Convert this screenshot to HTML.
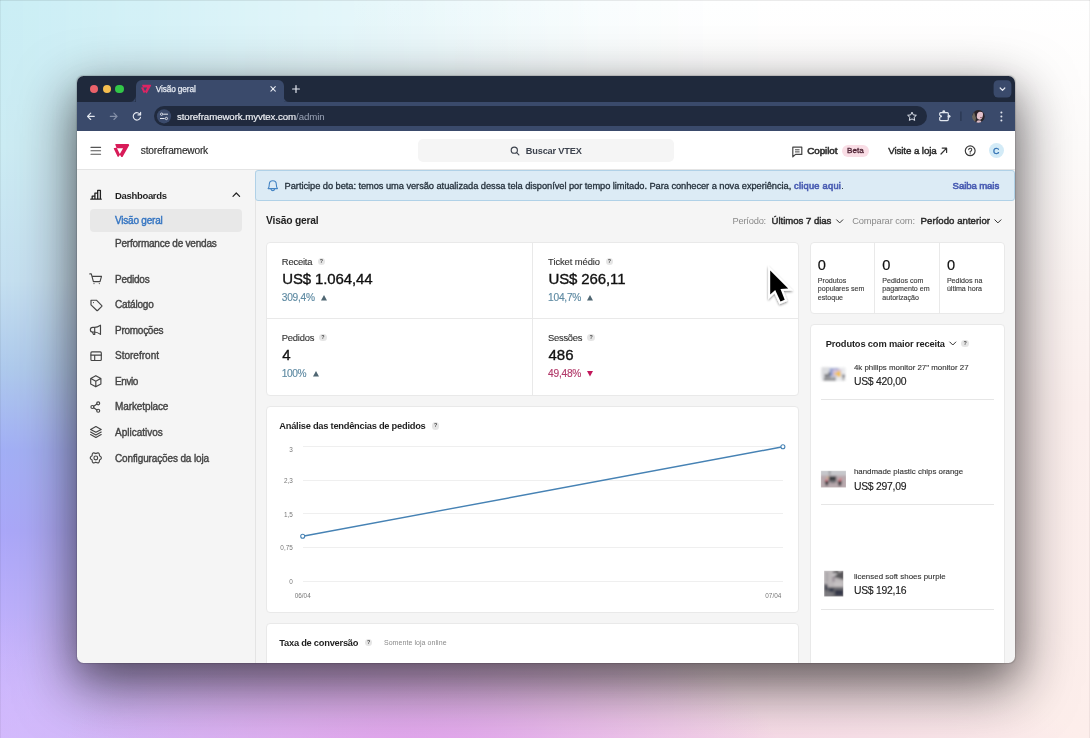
<!DOCTYPE html>
<html lang="pt-BR">
<head>
<meta charset="utf-8">
<title>Visão geral</title>
<style>
*{box-sizing:border-box;margin:0;padding:0}
html,body{width:1090px;height:738px;overflow:hidden}
body{font-family:"Liberation Sans",sans-serif;color:#1f1f1f;position:relative;
background:linear-gradient(180deg,#ffffff 0%,#fdfbfa 20%,#fcf4f2 40%,#fcf0ee 55%,#fdeeeb 100%);
}
#win{position:absolute;left:76.9px;top:76.3px;width:938.1px;height:586.3px;border-radius:6.5px;overflow:hidden;background:#f5f5f5;
 box-shadow:0 21px 56px 4px rgba(16,12,16,.6),0 10px 28px 0 rgba(16,12,16,.13),0 0 1px .5px rgba(16,12,16,.14)}
#o{position:absolute;left:-76.9px;top:-76.3px;width:1090px;height:738px}
#bg1{position:absolute;left:0;top:0;width:1090px;height:738px;
 background:linear-gradient(180deg,#caeef5 0%,#cbebf3 20%,#c4dff0 38%,#adc9ec 50%,#a1aef5 61%,#a9a6f8 72%,#c0b0fb 86%,#d6c1ff 100%);
 -webkit-mask-image:linear-gradient(90deg,#000 0%,rgba(0,0,0,.82) 13%,rgba(0,0,0,.59) 27.5%,rgba(0,0,0,.26) 46%,rgba(0,0,0,.12) 55%,rgba(0,0,0,.03) 64%,transparent 72%);
 mask-image:linear-gradient(90deg,#000 0%,rgba(0,0,0,.82) 13%,rgba(0,0,0,.59) 27.5%,rgba(0,0,0,.26) 46%,rgba(0,0,0,.12) 55%,rgba(0,0,0,.03) 64%,transparent 72%)}
#bg2{position:absolute;left:0;top:0;width:1090px;height:738px;
 background:radial-gradient(ellipse 370px 200px at 420px 790px, rgba(226,152,238,1) 0%, rgba(228,166,238,.65) 45%, rgba(234,188,240,0) 100%),
 radial-gradient(ellipse 420px 170px at 690px 800px, rgba(244,200,232,.8) 0%, rgba(245,205,232,.42) 50%, rgba(246,210,232,0) 100%),
 radial-gradient(ellipse 460px 170px at 130px 780px, rgba(208,180,250,.95) 0%, rgba(208,180,250,.5) 50%, rgba(208,180,250,0) 100%)}
.a{position:absolute}
.t{position:absolute;white-space:nowrap;line-height:14px;height:14px}
.card{position:absolute;background:#fff;border:1px solid #e9e9e9;border-radius:4px}
.q{position:absolute;width:7.6px;height:7.6px;border-radius:50%;background:#e5e5e5;color:#4a4a4a;font-size:5.4px;font-weight:bold;line-height:7.8px;text-align:center}
svg{position:absolute;overflow:visible}
.ic{fill:none;stroke:#444;stroke-width:1.15;stroke-linecap:round;stroke-linejoin:round}
</style>
</head>
<body>
<div id="bg1"></div><div id="bg2"></div><div class="a" style="left:0;top:0;width:1090px;height:1px;background:rgba(0,0,0,.08)"></div><div class="a" style="left:0;top:0;width:1px;height:738px;background:rgba(0,0,0,.05)"></div><div class="a" style="left:1089px;top:0;width:1px;height:738px;background:rgba(0,0,0,.05)"></div>
<div id="win"><div id="o">
<div class="a" style="left:76px;top:76px;width:940px;height:26px;background:#1f293c;"></div>
<div class="a" style="left:76px;top:101.5px;width:940px;height:29.5px;background:#3a4a6b;"></div>
<div class="a" style="left:135.5px;top:80px;width:148px;height:24px;background:#3a4a6b;border-radius:6px 6px 0 0"></div>
<div class="a" style="left:89.9px;top:84.8px;width:8.4px;height:8.4px;background:#ea626a;border-radius:50%"></div>
<div class="a" style="left:102.6px;top:84.8px;width:8.4px;height:8.4px;background:#f5be4f;border-radius:50%"></div>
<div class="a" style="left:115.3px;top:84.8px;width:8.4px;height:8.4px;background:#32c748;border-radius:50%"></div>
<div class="a" style="left:153.8px;top:105.8px;width:773px;height:20.6px;background:#202a3e;border-radius:10.3px"></div>
<div class="a" style="left:76px;top:131px;width:940px;height:39.3px;background:#fff;border-bottom:1px solid #e4e4e4"></div>
<div class="a" style="left:418.2px;top:139.3px;width:256px;height:23px;background:#f5f5f5;border-radius:5px"></div>
<div class="a" style="left:842.3px;top:145.3px;width:26.3px;height:11.3px;background:#f9dde5;border-radius:6px"></div>
<div class="a" style="left:988.7px;top:143.3px;width:15px;height:15px;background:#d3ebf7;border-radius:50%"></div>
<div class="a" style="left:254.5px;top:170.5px;width:1px;height:500px;background:#e4e4e4;"></div>
<div class="a" style="left:90px;top:209px;width:152.3px;height:22.5px;background:#e8e8e8;border-radius:4px"></div>
<div class="a" style="left:255.3px;top:170px;width:759.7px;height:31.2px;background:#dcebf5;border:1px solid #b0d1e7;border-radius:3px"></div>
<div class="card" style="left:265.6px;top:242px;width:533.8px;height:153.5px"></div>
<div class="a" style="left:532px;top:243px;width:1px;height:151.5px;background:#e9e9e9;"></div>
<div class="a" style="left:267px;top:318px;width:531.5px;height:1px;background:#e9e9e9;"></div>
<div class="q" style="left:317.6px;top:257.9px">?</div>
<svg style="left:320.9px;top:294.5px" width="6" height="5.4" viewBox="0 0 6 5.4"><path d="M0 5.4H6L3 0Z" fill="#4f6672"/></svg>
<div class="q" style="left:605.5px;top:257.9px">?</div>
<svg style="left:587.2px;top:294.5px" width="6" height="5.4" viewBox="0 0 6 5.4"><path d="M0 5.4H6L3 0Z" fill="#4f6672"/></svg>
<div class="q" style="left:319.0px;top:333.8px">?</div>
<svg style="left:313px;top:370.7px" width="6" height="5.4" viewBox="0 0 6 5.4"><path d="M0 5.4H6L3 0Z" fill="#4f6672"/></svg>
<div class="q" style="left:587.3px;top:333.8px">?</div>
<svg style="left:586.7px;top:371.09999999999997px" width="6" height="5.4" viewBox="0 0 6 5.4"><path d="M0 0H6L3 5.4Z" fill="#c2185b"/></svg>
<div class="card" style="left:810px;top:242px;width:195px;height:71.5px"></div>
<div class="a" style="left:874.1px;top:243px;width:1px;height:69.5px;background:#e9e9e9;"></div>
<div class="a" style="left:939px;top:243px;width:1px;height:69.5px;background:#e9e9e9;"></div>
<div class="card" style="left:810px;top:324px;width:195px;height:360px"></div>
<div class="q" style="left:961.3px;top:339.9px">?</div>
<div class="a" style="left:820.8px;top:399.1px;width:173.4px;height:1px;background:#e6e6e6;"></div>
<div class="a" style="left:820.8px;top:503.9px;width:173.4px;height:1px;background:#e6e6e6;"></div>
<div class="a" style="left:820.8px;top:608.5px;width:173.4px;height:1px;background:#e6e6e6;"></div>
<div class="card" style="left:265.6px;top:406px;width:533.8px;height:206.5px"></div>
<div class="q" style="left:431.8px;top:422.0px">?</div>
<div class="a" style="left:302.7px;top:446.2px;width:480.3px;height:1px;background:#efefef;"></div>
<div class="a" style="left:302.7px;top:479.7px;width:480.3px;height:1px;background:#efefef;"></div>
<div class="a" style="left:302.7px;top:513.3px;width:480.3px;height:1px;background:#efefef;"></div>
<div class="a" style="left:302.7px;top:547.1px;width:480.3px;height:1px;background:#efefef;"></div>
<div class="a" style="left:302.7px;top:580.6px;width:480.3px;height:1px;background:#efefef;"></div>
<svg style="left:0;top:0" width="1090" height="738"><path d="M302.7 536.3L782.9 446.8" stroke="#4682b4" stroke-width="1.4" fill="none"/><circle cx="302.7" cy="536.3" r="2" fill="#fff" stroke="#4682b4" stroke-width="1.1"/><circle cx="782.9" cy="446.8" r="2" fill="#fff" stroke="#4682b4" stroke-width="1.1"/></svg>
<div class="card" style="left:265.6px;top:623px;width:533.8px;height:80px"></div>
<div class="q" style="left:364.9px;top:638.8px">?</div>
<div class="t" style="left:155.8px;top:82.2px;font-size:8.3px;color:#e6eaf2;letter-spacing:-0.142px;-webkit-text-stroke:0.25px #e6eaf2;">Visão geral</div>
<div class="t" style="left:177px;top:109.6px;font-size:9.7px;color:#f2f4f8;letter-spacing:-0.084px;-webkit-text-stroke:0.15px #f2f4f8;">storeframework.myvtex.com<span style="color:#9aa3b6;-webkit-text-stroke:0">/admin</span></div>
<div class="t" style="left:140.8px;top:144.4px;font-size:10.2px;color:#2a2a2a;letter-spacing:-0.215px;-webkit-text-stroke:0.15px #2a2a2a;">storeframework</div>
<div class="t" style="left:525.8px;top:144.0px;font-size:9.2px;color:#3d434e;font-weight:700;letter-spacing:-0.173px;">Buscar VTEX</div>
<div class="t" style="left:807.2px;top:144.3px;font-size:9.8px;color:#333;letter-spacing:-0.043px;-webkit-text-stroke:0.62px #333;">Copilot</div>
<div class="t" style="left:847.1px;top:144.2px;font-size:8.1px;color:#4d2233;letter-spacing:-0.039px;-webkit-text-stroke:0.3px #4d2233;">Beta</div>
<div class="t" style="left:888.2px;top:144.3px;font-size:9.8px;color:#2b2b2b;letter-spacing:-0.111px;-webkit-text-stroke:0.45px #2b2b2b;">Visite a loja</div>
<div class="t" style="left:996.2px;top:144.1px;font-size:8.8px;color:#2c6cb0;-webkit-text-stroke:0.3px #2c6cb0;transform:translateX(-50%);">C</div>
<div class="t" style="left:115px;top:188.5px;font-size:9.5px;color:#1f1f1f;font-weight:700;letter-spacing:-0.321px;">Dashboards</div>
<div class="t" style="left:115px;top:214.0px;font-size:10px;color:#3575c2;letter-spacing:-0.214px;-webkit-text-stroke:0.4px #3575c2;">Visão geral</div>
<div class="t" style="left:115px;top:237.1px;font-size:10px;color:#444;letter-spacing:-0.222px;-webkit-text-stroke:0.38px #444;">Performance de vendas</div>
<div class="t" style="left:115px;top:272.6px;font-size:10px;color:#444;letter-spacing:-0.249px;-webkit-text-stroke:0.38px #444;">Pedidos</div>
<div class="t" style="left:115px;top:298.3px;font-size:10px;color:#444;letter-spacing:-0.179px;-webkit-text-stroke:0.38px #444;">Catálogo</div>
<div class="t" style="left:115px;top:323.7px;font-size:10px;color:#444;letter-spacing:-0.264px;-webkit-text-stroke:0.38px #444;">Promoções</div>
<div class="t" style="left:115px;top:349.2px;font-size:10px;color:#444;letter-spacing:0.008px;-webkit-text-stroke:0.38px #444;">Storefront</div>
<div class="t" style="left:115px;top:374.8px;font-size:10px;color:#444;letter-spacing:-0.403px;-webkit-text-stroke:0.38px #444;">Envio</div>
<div class="t" style="left:115px;top:400.2px;font-size:10px;color:#444;letter-spacing:-0.106px;-webkit-text-stroke:0.38px #444;">Marketplace</div>
<div class="t" style="left:115px;top:425.8px;font-size:10px;color:#444;-webkit-text-stroke:0.38px #444;">Aplicativos</div>
<div class="t" style="left:115px;top:451.5px;font-size:10px;color:#444;letter-spacing:-0.130px;-webkit-text-stroke:0.38px #444;">Configurações da loja</div>
<div class="t" style="left:284.6px;top:178.9px;font-size:9.3px;color:#25313c;letter-spacing:-0.058px;-webkit-text-stroke:0.3px #25313c;">Participe do beta: temos uma versão atualizada dessa tela disponível por tempo limitado. Para conhecer a nova experiência,</div>
<div class="t" style="left:794px;top:178.9px;font-size:9.3px;color:#4a5db3;letter-spacing:0.241px;-webkit-text-stroke:0.62px #4a5db3;">clique aqui</div>
<div class="t" style="left:841.2px;top:178.9px;font-size:9.3px;color:#25313c;">.</div>
<div class="t" style="left:952.6px;top:178.9px;font-size:9.6px;color:#4a5db3;letter-spacing:-0.097px;-webkit-text-stroke:0.62px #4a5db3;">Saiba mais</div>
<div class="t" style="left:266px;top:214.0px;font-size:10.3px;color:#1f1f1f;font-weight:700;letter-spacing:-0.206px;">Visão geral</div>
<div class="t" style="left:732.5px;top:214.0px;font-size:9.3px;color:#8a8a8a;letter-spacing:-0.207px;">Período:</div>
<div class="t" style="left:771.5px;top:214.0px;font-size:9.6px;color:#2a2a2a;letter-spacing:-0.025px;-webkit-text-stroke:0.45px #2a2a2a;">Últimos 7 dias</div>
<div class="t" style="left:852.2px;top:214.0px;font-size:9.3px;color:#8a8a8a;letter-spacing:-0.105px;">Comparar com:</div>
<div class="t" style="left:920.6px;top:214.0px;font-size:9.6px;color:#2a2a2a;letter-spacing:0.038px;-webkit-text-stroke:0.45px #2a2a2a;">Período anterior</div>
<div class="t" style="left:281.8px;top:254.8px;font-size:9.4px;color:#333;letter-spacing:-0.185px;-webkit-text-stroke:0.12px #333;">Receita</div>
<div class="t" style="left:282.2px;top:271.5px;font-size:15px;color:#111;letter-spacing:-0.112px;-webkit-text-stroke:0.35px #111;">US$ 1.064,44</div>
<div class="t" style="left:281.8px;top:290.7px;font-size:10.2px;color:#5f8ba3;letter-spacing:-0.260px;-webkit-text-stroke:0.15px #5f8ba3;">309,4%</div>
<div class="t" style="left:548.1px;top:254.8px;font-size:9.4px;color:#333;letter-spacing:-0.083px;-webkit-text-stroke:0.12px #333;">Ticket médio</div>
<div class="t" style="left:548.5px;top:271.5px;font-size:15px;color:#111;letter-spacing:-0.122px;-webkit-text-stroke:0.35px #111;">US$ 266,11</div>
<div class="t" style="left:548.1px;top:290.7px;font-size:10.2px;color:#5f8ba3;letter-spacing:-0.260px;-webkit-text-stroke:0.15px #5f8ba3;">104,7%</div>
<div class="t" style="left:281.8px;top:330.7px;font-size:9.4px;color:#333;letter-spacing:-0.213px;-webkit-text-stroke:0.12px #333;">Pedidos</div>
<div class="t" style="left:282.2px;top:348.1px;font-size:15px;color:#111;letter-spacing:-0.544px;-webkit-text-stroke:0.35px #111;">4</div>
<div class="t" style="left:281.8px;top:367.0px;font-size:10.2px;color:#5f8ba3;letter-spacing:-0.391px;-webkit-text-stroke:0.15px #5f8ba3;">100%</div>
<div class="t" style="left:548.1px;top:330.7px;font-size:9.4px;color:#333;letter-spacing:-0.281px;-webkit-text-stroke:0.12px #333;">Sessões</div>
<div class="t" style="left:548.5px;top:348.1px;font-size:15px;color:#111;letter-spacing:-0.010px;-webkit-text-stroke:0.35px #111;">486</div>
<div class="t" style="left:548.1px;top:367.0px;font-size:10.2px;color:#b23a6a;letter-spacing:-0.260px;-webkit-text-stroke:0.15px #b23a6a;">49,48%</div>
<div class="t" style="left:817.8px;top:257.9px;font-size:14.6px;color:#111;-webkit-text-stroke:0.2px #111;">0</div>
<div class="t" style="left:817.8px;top:273.5px;font-size:7.1px;color:#3a3a3a;-webkit-text-stroke:0.12px #3a3a3a;">Produtos</div>
<div class="t" style="left:817.8px;top:282.3px;font-size:7.1px;color:#3a3a3a;-webkit-text-stroke:0.12px #3a3a3a;">populares sem</div>
<div class="t" style="left:817.8px;top:291.1px;font-size:7.1px;color:#3a3a3a;-webkit-text-stroke:0.12px #3a3a3a;">estoque</div>
<div class="t" style="left:882.3px;top:257.9px;font-size:14.6px;color:#111;-webkit-text-stroke:0.2px #111;">0</div>
<div class="t" style="left:882.3px;top:273.5px;font-size:7.1px;color:#3a3a3a;-webkit-text-stroke:0.12px #3a3a3a;">Pedidos com</div>
<div class="t" style="left:882.3px;top:282.3px;font-size:7.1px;color:#3a3a3a;-webkit-text-stroke:0.12px #3a3a3a;">pagamento em</div>
<div class="t" style="left:882.3px;top:291.1px;font-size:7.1px;color:#3a3a3a;-webkit-text-stroke:0.12px #3a3a3a;">autorização</div>
<div class="t" style="left:946.9px;top:257.9px;font-size:14.6px;color:#111;-webkit-text-stroke:0.2px #111;">0</div>
<div class="t" style="left:946.9px;top:273.5px;font-size:7.1px;color:#3a3a3a;-webkit-text-stroke:0.12px #3a3a3a;">Pedidos na</div>
<div class="t" style="left:946.9px;top:282.3px;font-size:7.1px;color:#3a3a3a;-webkit-text-stroke:0.12px #3a3a3a;">última hora</div>
<div class="t" style="left:825.8px;top:336.8px;font-size:9.3px;color:#1f1f1f;font-weight:700;letter-spacing:-0.149px;">Produtos com maior receita</div>
<div class="t" style="left:853.9px;top:360.6px;font-size:7.9px;color:#333;-webkit-text-stroke:0.12px #333;">4k philips monitor 27" monitor 27</div>
<div class="t" style="left:853.9px;top:375.0px;font-size:10.4px;color:#222;letter-spacing:-0.259px;-webkit-text-stroke:0.15px #222;">US$ 420,00</div>
<div class="t" style="left:853.9px;top:465.4px;font-size:7.9px;color:#333;-webkit-text-stroke:0.12px #333;">handmade plastic chips orange</div>
<div class="t" style="left:853.9px;top:479.8px;font-size:10.4px;color:#222;letter-spacing:-0.259px;-webkit-text-stroke:0.15px #222;">US$ 297,09</div>
<div class="t" style="left:853.9px;top:570.0px;font-size:7.9px;color:#333;letter-spacing:0.025px;-webkit-text-stroke:0.12px #333;">licensed soft shoes purple</div>
<div class="t" style="left:853.9px;top:584.4px;font-size:10.4px;color:#222;letter-spacing:-0.259px;-webkit-text-stroke:0.15px #222;">US$ 192,16</div>
<div class="t" style="left:279.3px;top:419.0px;font-size:9.3px;color:#1f1f1f;font-weight:700;letter-spacing:-0.251px;">Análise das tendências de pedidos</div>
<div class="t" style="left:292.8px;top:443.2px;font-size:6.4px;color:#777;transform:translateX(-100%);">3</div>
<div class="t" style="left:292.8px;top:474.1px;font-size:6.4px;color:#777;transform:translateX(-100%);">2,3</div>
<div class="t" style="left:292.8px;top:507.7px;font-size:6.4px;color:#777;transform:translateX(-100%);">1,5</div>
<div class="t" style="left:292.8px;top:541.3px;font-size:6.4px;color:#777;transform:translateX(-100%);">0,75</div>
<div class="t" style="left:292.8px;top:574.8px;font-size:6.4px;color:#777;transform:translateX(-100%);">0</div>
<div class="t" style="left:302.7px;top:588.5px;font-size:6.4px;color:#777;transform:translateX(-50%);">06/04</div>
<div class="t" style="left:773.3px;top:588.5px;font-size:6.4px;color:#777;transform:translateX(-50%);">07/04</div>
<div class="t" style="left:279.3px;top:635.8px;font-size:9.3px;color:#1f1f1f;font-weight:700;letter-spacing:-0.243px;">Taxa de conversão</div>
<div class="t" style="left:383.9px;top:636.0px;font-size:7px;color:#8a8a8a;letter-spacing:0.068px;">Somente loja online</div>
<svg style="left:0;top:0" width="1090" height="738" viewBox="0 0 1090 738"><path d="M115.54 143.98L128.6 143.98L129.2 145.2L122.5 157.07L121.37 157.07L119.95 154.8L118.67 156.75L117.68 156.75L113.69 148.6L114.12 147.97L116.54 147.68L115.3 144.7ZM116.96 148.25L123.08 148.25L119.81 153.94Z" fill="#d81b58" fill-rule="evenodd"/><path d="M142.29 84.79L150.78 84.79L151.17 85.58L146.81 93.3L146.08 93.3L145.16 91.82L144.33 93.09L143.68 93.09L141.09 87.79L141.37 87.38L142.94 87.19L142.13 85.25ZM143.21 87.56L147.19 87.56L145.07 91.26Z" fill="#dc2463" fill-rule="evenodd"/><path d="M94.3 116.3H87.6M90.7 113.1L87.5 116.3L90.7 119.5" stroke="#e4e8f0" stroke-width="1.15" fill="none" stroke-linecap="round" stroke-linejoin="round"/><path d="M110.3 116.3H117M113.9 113.1L117.1 116.3L113.9 119.5" stroke="#8490a8" stroke-width="1.15" fill="none" stroke-linecap="round" stroke-linejoin="round"/><path d="M140.2 114.6A3.7 3.7 0 1 0 140.5 117.4" stroke="#e4e8f0" stroke-width="1.15" fill="none" stroke-linecap="round" stroke-linejoin="round"/><path d="M140.6 112.3V114.9H138" stroke="#e4e8f0" stroke-width="1.15" fill="none" stroke-linecap="round" stroke-linejoin="round"/><path d="M129.5 101.8Q135.5 101.8 135.5 95.8V101.8Z" fill="#3a4a6b"/><path d="M289.5 101.8Q283.5 101.8 283.5 95.8V101.8Z" fill="#3a4a6b"/><path d="M270.9 86.7L275.3 91.1M275.3 86.7L270.9 91.1" stroke="#e4e8f0" stroke-width="1.1" fill="none" stroke-linecap="round"/><path d="M296 85.6V92.4M292.6 89H299.4" stroke="#e4e8f0" stroke-width="1.2" fill="none" stroke-linecap="round"/><circle class="" cx="164" cy="116.3" r="7.1" fill="#3a4a6b"/><path d="M163.6 114.2H167.6M160.4 118.5H164.2" stroke="#e4e8f0" stroke-width="1" fill="none" stroke-linecap="round"/><circle class="" cx="161.6" cy="114.2" r="1.15" fill="none" stroke="#e4e8f0" stroke-width="0.9"/><circle class="" cx="166.4" cy="118.5" r="1.15" fill="none" stroke="#e4e8f0" stroke-width="0.9"/><path d="M912.00 112.10L913.29 114.92L916.37 115.28L914.09 117.38L914.70 120.42L912.00 118.90L909.30 120.42L909.91 117.38L907.63 115.28L910.71 114.92Z" stroke="#dfe4ee" stroke-width="1" fill="none" stroke-linejoin="round"/><rect x="939.7" y="112.6" width="8.6" height="8" rx="1" stroke="#e1e7ef" stroke-width="1.2" fill="none"/><circle cx="943.8" cy="111.7" r="1.45" fill="#e1e7ef"/><circle cx="949.1" cy="116.3" r="1.4" fill="#e1e7ef"/><circle cx="940.6" cy="116.3" r="1.3" fill="#e1e7ef"/><circle cx="939.3" cy="116.3" r="0.9" fill="#3a4a6b"/><path d="M960.9 111.4V121" stroke="#27334d" stroke-width="1.1" fill="none"/><circle class="" cx="1001.4" cy="112.4" r="1.0" fill="#e4e8f0"/><circle class="" cx="1001.4" cy="116.4" r="1.0" fill="#e4e8f0"/><circle class="" cx="1001.4" cy="120.4" r="1.0" fill="#e4e8f0"/><rect x="993.6" y="80.3" width="17.8" height="17.2" rx="4.5" fill="#3a4a6b"/><path d="M1000.2 88L1002.5 90.3L1004.8 88" stroke="#e9edf4" stroke-width="1.2" fill="none" stroke-linecap="round" stroke-linejoin="round"/><path class="ic" d="M91 147.4H100.6" style="stroke:#555;stroke-width:1.1"/><path class="ic" d="M91 150.8H100.6" style="stroke:#555;stroke-width:1.1"/><path class="ic" d="M91 154.2H100.6" style="stroke:#555;stroke-width:1.1"/><circle class="ic" cx="514.3" cy="150.2" r="3.1" style="stroke:#3d434e;stroke-width:1.15"/><path class="ic" d="M516.7 152.6L518.9 154.8" style="stroke:#3d434e;stroke-width:1.15"/><path class="ic" d="M792.8 147.2H801.8V154.4H795.6L792.8 156.8Z" style="stroke:#444;stroke-width:1.2"/><path class="ic" d="M795.4 149.8H799.2M795.4 151.9H799.2" style="stroke:#444;stroke-width:1"/><path class="ic" d="M941 154L946.4 148.3M942.2 148.1H946.6V152.4" style="stroke:#333;stroke-width:1.2"/><circle class="ic" cx="970.2" cy="150.8" r="4.9" style="stroke:#3a3a3a;stroke-width:1.2"/><path class="ic" d="M968.7 149.6A1.55 1.55 0 1 1 970.2 151.3V152.2" style="stroke:#3a3a3a;stroke-width:1.1"/><circle class="" cx="970.2" cy="153.8" r="0.65" fill="#3a3a3a"/><path class="ic" d="M90.8 199.2H101.2M92.2 199V196.2H94.9M94.9 199V193.2H97.7M97.7 199V190.3H100.4V199" style="stroke:#222;stroke-width:1.3"/><path class="ic" d="M233 196.3L236.3 193L239.6 196.3" style="stroke:#222;stroke-width:1.2"/><path class="ic" d="M89.8 273.9H91.3L93.4 281.6H100L101.5 276.4H92" /><circle class="" cx="94" cy="283.6" r="0.55" fill="#454545"/><circle class="" cx="99.3" cy="283.6" r="0.55" fill="#454545"/><path class="ic" d="M91 300.2L96.4 300.2L101.8 305.6A.6 .6 0 0 1 101.8 306.4L97.6 310.5A.6 .6 0 0 1 96.8 310.5L91 304.9Z" /><circle class="" cx="93.5" cy="302.6" r="0.55" fill="#454545"/><path class="ic" d="M100.5 325.2V334.4C98.5 333 96.5 332 94.7 332H92.7A2.35 2.35 0 0 1 92.7 327.3H94.7C96.5 327.3 98.5 326.5 100.5 325.2ZM94.7 327.3V334.4H93.4L92.4 332" /><rect class="ic" x="90.9" y="351.9" width="10.4" height="8.6" rx="1"/><path class="ic" d="M90.9 355.1H101.3M94.7 355.1V360.5" /><path class="ic" d="M95.8 375.7L100.9 378.5V384L95.8 386.8L90.7 384V378.5ZM90.9 378.6L95.8 381.3L100.7 378.6M95.8 381.3V386.6" /><circle class="ic" cx="92.4" cy="407" r="1.5" /><circle class="ic" cx="98.2" cy="403.3" r="1.5" /><circle class="ic" cx="98.2" cy="410.7" r="1.5" /><path class="ic" d="M93.7 406.2L96.9 404.1M93.7 407.8L96.9 409.9" /><path class="ic" d="M95.9 426.5L101.2 429.4L95.9 432.3L90.6 429.4ZM90.6 432L95.9 434.9L101.2 432M90.6 434.6L95.9 437.5L101.2 434.6" /><path class="ic" d="M95.80 453.60Q99.55 451.40 99.52 455.75Q103.30 457.90 99.52 460.05Q99.55 464.40 95.80 462.20Q92.05 464.40 92.08 460.05Q88.30 457.90 92.08 455.75Q92.05 451.40 95.80 453.60Z"/><circle class="ic" cx="95.8" cy="457.9" r="1.9" /><path class="ic" d="M268.1 188.6C269.3 187 269.3 185.6 269.3 184.2A3.5 3.5 0 0 1 276.3 184.2C276.3 185.6 276.3 187 277.5 188.6ZM270.9 189A2 2.4 0 0 0 274.7 189" style="stroke:#4585c4;stroke-width:1.1"/><path class="ic" d="M836.6 219.8L839.7 222.9L842.8 219.8" style="stroke:#333;stroke-width:1"/><path class="ic" d="M994.8 219.8L997.9 222.9L1001 219.8" style="stroke:#333;stroke-width:1"/><path class="ic" d="M949.8 342L952.8 345L955.8 342" style="stroke:#333;stroke-width:1"/><defs><filter id="cs" x="-40%" y="-40%" width="180%" height="180%"><feDropShadow dx="0" dy="1.2" stdDeviation="1.3" flood-color="#000" flood-opacity=".45"/></filter></defs><g filter="url(#cs)"><path d="M770.2 270.6L770.2 294.6L775.2 290L780.5 301.6L784.7 299.8L780.5 288.9L788.2 288.6Z" fill="#000" stroke="#fff" stroke-width="4.2" stroke-linejoin="miter" stroke-miterlimit="6" paint-order="stroke"/></g><defs><filter id="bl" x="-10%" y="-10%" width="120%" height="120%"><feGaussianBlur stdDeviation="1.1"/></filter><filter id="bl2" x="-10%" y="-10%" width="120%" height="120%"><feGaussianBlur stdDeviation="0.6"/></filter><clipPath id="av"><circle cx="978.4" cy="116.4" r="6.3"/></clipPath><clipPath id="p2"><rect x="820.9" y="470.7" width="25.1" height="16.7"/></clipPath><clipPath id="p3"><rect x="824.1" y="570.7" width="19.2" height="25.7"/></clipPath></defs><g filter="url(#bl)" opacity=".8"><rect x="821.5" y="367.5" width="24" height="13.5" fill="#e4e5e8"/><rect x="821.5" y="367.3" width="8" height="10.5" fill="#d3d4d8"/><rect x="829.6" y="368.2" width="9" height="8" fill="#7c8bc4"/><rect x="833" y="369.5" width="8.2" height="6.5" fill="#c9b4d6"/><path d="M834 373L837 372.6L838 370.6L840.6 371.4L840.8 376.6L838 377L836.6 375L834.4 374.4Z" fill="#eeb42c"/><rect x="824.6" y="374" width="3.2" height="3.6" fill="#4a4b52"/><rect x="828.4" y="372" width="1.8" height="5.6" fill="#2d3142"/><rect x="842" y="374.6" width="3" height="2.6" fill="#50545f"/><rect x="842.6" y="377.2" width="1.6" height="3" fill="#777"/><rect x="823.5" y="378.2" width="12.5" height="2.3" fill="#5d5e63"/><rect x="830" y="376.6" width="6" height="2" fill="#9a9ba0"/></g><g clip-path="url(#p2)"><g filter="url(#bl)"><rect x="820" y="470" width="27" height="6" fill="#c6c7cb"/><rect x="820" y="475.6" width="27" height="13" fill="#b8a9ad"/><rect x="829.2" y="470.4" width="1" height="4.4" fill="#6a6a6e"/><rect x="829" y="476.2" width="7.2" height="5" fill="#3b3c41"/><rect x="830.2" y="480.6" width="5.4" height="2.6" fill="#77767b"/><path d="M824.6 481H829L827.8 485.6H825.8Z" fill="#34343a"/><path d="M837.6 481H842L840.8 486H838.8Z" fill="#34343a"/><circle cx="826.4" cy="480.5" r="0.95" fill="#e64055"/><circle cx="839.5" cy="480.6" r="0.9" fill="#e64055"/><circle cx="840.6" cy="479.4" r="0.8" fill="#e64055"/><circle cx="827.5" cy="477.5" r="0.75" fill="#f0b432"/></g></g><g clip-path="url(#p3)"><g filter="url(#bl)"><rect x="823" y="570" width="22" height="28" fill="#bcb7b9"/><path d="M833 571H844V580L834 577Z" fill="#58575a"/><path d="M832 575L840 570.6H842L833 577Z" fill="#d9d6d8"/><rect x="836" y="570.8" width="2.4" height="2.4" fill="#111"/><rect x="826" y="572" width="2" height="10" fill="#a9a5a8"/><rect x="832.6" y="576" width="1.8" height="6" fill="#8e8590"/><rect x="833" y="584.4" width="6" height="1" fill="#7a747c"/><rect x="824" y="587" width="20" height="10" fill="#6b6a70"/><rect x="824.4" y="584" width="3" height="6" fill="#3f4250"/><rect x="829" y="588" width="5" height="4" fill="#3a3f50"/><rect x="835" y="590" width="8.4" height="5.6" fill="#34384a"/><rect x="824.4" y="592" width="8" height="4.4" fill="#7d7c80"/><rect x="833.5" y="582" width="9" height="4.5" fill="#c5c1c2"/></g></g><g clip-path="url(#av)"><g filter="url(#bl2)"><rect x="971" y="109" width="15" height="15" fill="#2c252b"/><path d="M972 116L974 112L976 118L975 123H972Z" fill="#6d665c"/><ellipse cx="979.9" cy="115.4" rx="3" ry="4.3" fill="#e3c1cc" transform="rotate(12 979.9 115.4)"/><path d="M975.4 110.6C978 109 982 109 984.6 111.4L985 118L983.4 112.6C981 111.2 978.6 111.6 977.2 113.2L976 117Z" fill="#2a2228"/><ellipse cx="979" cy="122.4" rx="2.6" ry="2.2" fill="#dcbcc6"/><ellipse cx="981" cy="117.6" rx="1" ry=".5" fill="#8a5560"/></g></g></svg>
</div></div>
</body>
</html>
